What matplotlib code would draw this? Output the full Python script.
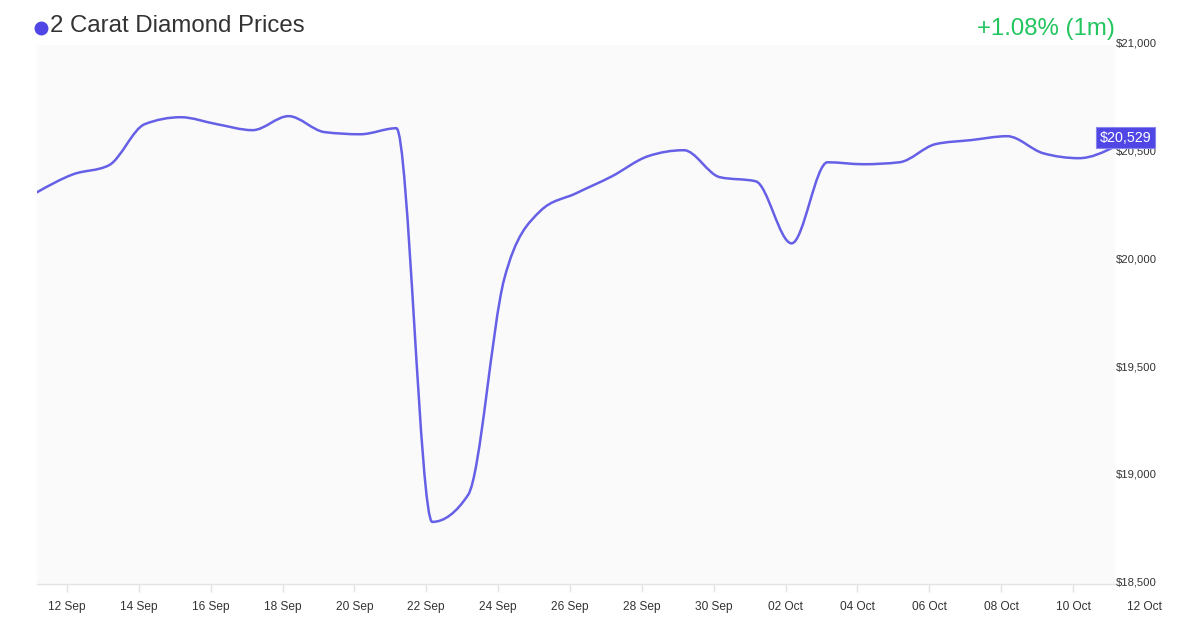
import numpy as np
import matplotlib
matplotlib.use("Agg")
import matplotlib.pyplot as plt
import matplotlib.dates as mdates
import matplotlib.transforms as mtransforms
from matplotlib.lines import Line2D
from matplotlib.path import Path
from matplotlib.patches import PathPatch
from datetime import datetime, timedelta

plt.rcParams['font.family'] = ['Liberation Sans', 'DejaVu Sans']

# ---- data ----
start = datetime(2023, 9, 11, 4, 0)
dates = [start + timedelta(days=i) for i in range(31)]
prices = [20317, 20400, 20442, 20633, 20665, 20633, 20605, 20670, 20596, 20586,
          20614, 18788, 18914, 19913, 20229, 20312, 20391, 20484, 20512, 20387,
          20368, 20080, 20456, 20447, 20456, 20540, 20559, 20577, 20498, 20475,
          20529]
title = "2 Carat Diamond Prices"
change_text = "+1.08% (1m)"
y_ticks = [18500, 19000, 19500, 20000, 20500, 21000]
x_tick_dates = [datetime(2023, 9, 12) + timedelta(days=2 * i) for i in range(16)]

# ---- colours ----
line_color = "#6660e6"
accent = "#4f46e5"
green = "#22c55e"
text_dark = "#333333"


def monotone_path(x, y):
    """Monotone cubic (monotoneX style) as a Bezier path through the data points."""
    x = np.asarray(x, float); y = np.asarray(y, float)
    h = np.diff(x); s = np.diff(y) / h
    m = np.zeros_like(y)
    for i in range(1, len(x) - 1):
        p = (s[i - 1] * h[i] + s[i] * h[i - 1]) / (h[i - 1] + h[i])
        m[i] = (np.sign(s[i - 1]) + np.sign(s[i])) * min(abs(s[i - 1]), abs(s[i]), 0.5 * abs(p))
    m[0] = (3 * s[0] - m[1]) / 2
    m[-1] = (3 * s[-1] - m[-2]) / 2
    verts = [(x[0], y[0])]
    codes = [Path.MOVETO]
    for i in range(len(x) - 1):
        dx = h[i] / 3
        verts += [(x[i] + dx, y[i] + dx * m[i]),
                  (x[i + 1] - dx, y[i + 1] - dx * m[i + 1]),
                  (x[i + 1], y[i + 1])]
        codes += [Path.CURVE4] * 3
    return Path(verts, codes)


xnum = mdates.date2num(dates)

fig = plt.figure(figsize=(12, 6.3), dpi=100)
ax = fig.add_axes([37 / 1200, 1 - 584 / 630, (1115 - 37) / 1200, (584 - 45) / 630])
ax.set_facecolor("#fafafa")
ax.add_patch(PathPatch(monotone_path(xnum, prices), fc='none', ec=line_color,
                       lw=1.8, capstyle='round', joinstyle='round'))

for sp in ['top', 'right', 'left']:
    ax.spines[sp].set_visible(False)
ax.spines['bottom'].set_color("#e3e3e3")
ax.spines['bottom'].set_linewidth(1)

tick_nums = mdates.date2num(x_tick_dates)
inside = [t for t in tick_nums if xnum[0] <= t <= xnum[-1]]
ax.set_xticks(inside)
ax.set_xticklabels([mdates.num2date(t).strftime("%d %b") for t in inside])
ax.tick_params(axis='x', colors="#e3e3e3", labelcolor=text_dark, length=6, width=1,
               labelsize=8.6, pad=6)
ax.set_xlim(xnum[0], xnum[-1])
ax.set_ylim(18500, 21000)

# tick labels that fall beyond the plotted range (no tick mark)
lab_off = mtransforms.offset_copy(ax.get_xaxis_transform(), fig=fig, x=0, y=-12, units='points')
for t in tick_nums:
    if t > xnum[-1]:
        ax.text(t, 0, mdates.num2date(t).strftime("%d %b"), transform=lab_off,
                ha='center', va='top', fontsize=8.6, color=text_dark, clip_on=False)

ax.set_yticks([])
offset = mtransforms.offset_copy(ax.get_yaxis_transform(), fig=fig, x=0.8, y=1, units='points')
for v in y_ticks:
    ax.text(1.0, v, f"${v:,}", transform=offset, ha='left', va='center',
            fontsize=8.1, color=text_dark, clip_on=False)

# last value label
lbl_off = mtransforms.offset_copy(ax.transData, fig=fig, x=-11, y=6.5, units='points')
ax.text(xnum[-1], prices[-1], f"${prices[-1]:,}", transform=lbl_off, ha='left', va='center',
        fontsize=10.3, color='white', clip_on=False,
        bbox=dict(boxstyle='square,pad=0.25', fc=accent, ec='#8a85ee', lw=0.8))

# title and change
fig.text(50 / 1200, 1 - 26 / 630, title, fontsize=17.3, color=text_dark, ha='left', va='center')
fig.add_artist(Line2D([41 / 1200], [1 - 28 / 630], marker='o', ms=9, color=accent,
                      transform=fig.transFigure))
fig.text(1115 / 1200, 1 - 29 / 630, change_text, fontsize=17.3, color=green, ha='right', va='center')

fig.savefig("out.png", dpi=100, facecolor='white')
